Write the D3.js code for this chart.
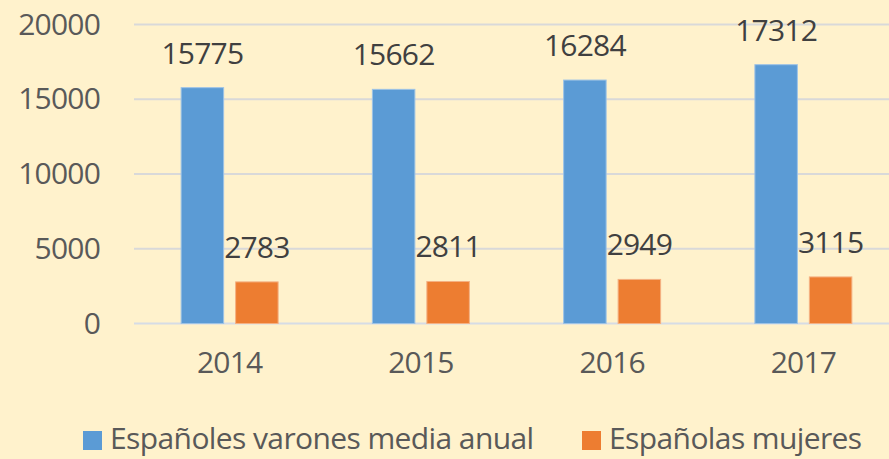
<!DOCTYPE html>
<html>
<head>
<meta charset="utf-8">
<script src="https://cdn.jsdelivr.net/npm/d3@7"></script>
<style>
  body { margin: 0; background: #FFF2CC; }
  svg { display: block; }
  text { font-family: "Open Sans", sans-serif; }
</style>
</head>
<body>
<div class="chart"></div>
<script>
var width = 889;
var height = 459;

var years = ['2014', '2015', '2016', '2017'];
var series = ['Españoles varones media anual', 'Españolas mujeres'];
var varones = [15775, 15662, 16284, 17312];
var mujeres = [2783, 2811, 2949, 3115];
var yTicks = [0, 5000, 10000, 15000, 20000];
var colors = ['#5B9BD5', '#ED7D31'];

var data = years.map(function(y, i){
	return { year: y, values: [varones[i], mujeres[i]] };
});

var svg = d3.select('.chart')
	.append('svg')
	.attr('width', width)
	.attr('height', height);

svg.append('rect')
	.attr('width', width)
	.attr('height', height)
	.attr('fill', '#FFF2CC');

var y = d3.scaleLinear()
	.domain([0, 20000])
	.range([323.5, 24.5]);

var x0 = d3.scaleBand()
	.domain(years)
	.range([134, 899])
	.padding(0);

var x1 = d3.scaleBand()
	.domain(series)
	.range([0, x0.bandwidth()])
	.paddingInner(0.22)
	.paddingOuter(0.865);

// gridlines
svg.selectAll('.grid')
	.data(yTicks)
	.enter().append('line')
	.attr('class', 'grid')
	.attr('x1', 134)
	.attr('x2', 899)
	.attr('y1', function(d){ return y(d) })
	.attr('y2', function(d){ return y(d) })
	.attr('stroke', function(d){ return d === 0 ? '#D6DCE5' : '#D9D9D9' })
	.attr('stroke-width', 2);

// y tick labels
var yAxis = d3.axisLeft(y).tickValues(yTicks).tickFormat(d3.format('d')).tickSize(0).tickPadding(0);
var yg = svg.append('g')
	.attr('transform', 'translate(100,0)')
	.call(yAxis);
yg.select('.domain').remove();
yg.selectAll('text')
	.attr('font-family', '"Open Sans", sans-serif')
	.attr('font-size', 30)
	.attr('letter-spacing', -0.8)
	.attr('fill', '#595959');

// x tick labels
var xAxis = d3.axisBottom(x0).tickSize(0).tickPadding(0);
var xg = svg.append('g')
	.attr('transform', 'translate(0,352)')
	.call(xAxis);
xg.select('.domain').remove();
xg.selectAll('text')
	.attr('font-family', '"Open Sans", sans-serif')
	.attr('font-size', 30)
	.attr('letter-spacing', -0.8)
	.attr('fill', '#595959');

// bars
var groups = svg.selectAll('.group')
	.data(data)
	.enter().append('g')
	.attr('class', 'group')
	.attr('transform', function(d){ return 'translate(' + x0(d.year) + ',0)' });

groups.selectAll('rect')
	.data(function(d){ return d.values.map(function(v, i){ return { s: series[i], v: v, i: i } }) })
	.enter().append('rect')
	.attr('x', function(d){ return x1(d.s) })
	.attr('width', x1.bandwidth())
	.attr('y', function(d){ return y(d.v) })
	.attr('height', function(d){ return y(0) - y(d.v) })
	.attr('fill', function(d){ return colors[d.i] })
	.attr('stroke', function(d){ return d.i === 0 ? '#9DC3E6' : '#F4B183' })
	.attr('stroke-width', 1);

groups.selectAll('.val')
	.data(function(d){ return d.values.map(function(v, i){ return { s: series[i], v: v, i: i } }) })
	.enter().append('text')
	.attr('class', 'val')
	.attr('x', function(d){ return x1(d.s) + x1.bandwidth() / 2 })
	.attr('y', function(d){ return y(d.v) - 24 })
	.attr('text-anchor', 'middle')
	.attr('font-size', 30)
	.attr('letter-spacing', -0.8)
	.attr('fill', '#404040')
	.text(function(d){ return d.v });

// legend
var legendX = [83, 582];
var legend = svg.selectAll('.legend')
	.data(series)
	.enter().append('g')
	.attr('class', 'legend')
	.attr('transform', function(d, i){ return 'translate(' + legendX[i] + ',431)' });

legend.append('rect')
	.attr('width', 19)
	.attr('height', 19)
	.attr('fill', function(d, i){ return colors[i] });

legend.append('text')
	.attr('x', 27)
	.attr('y', 18)
	.attr('font-size', 30)
	.attr('letter-spacing', -0.6)
	.attr('fill', '#595959')
	.text(function(d){ return d });
</script>
</body>
</html>
